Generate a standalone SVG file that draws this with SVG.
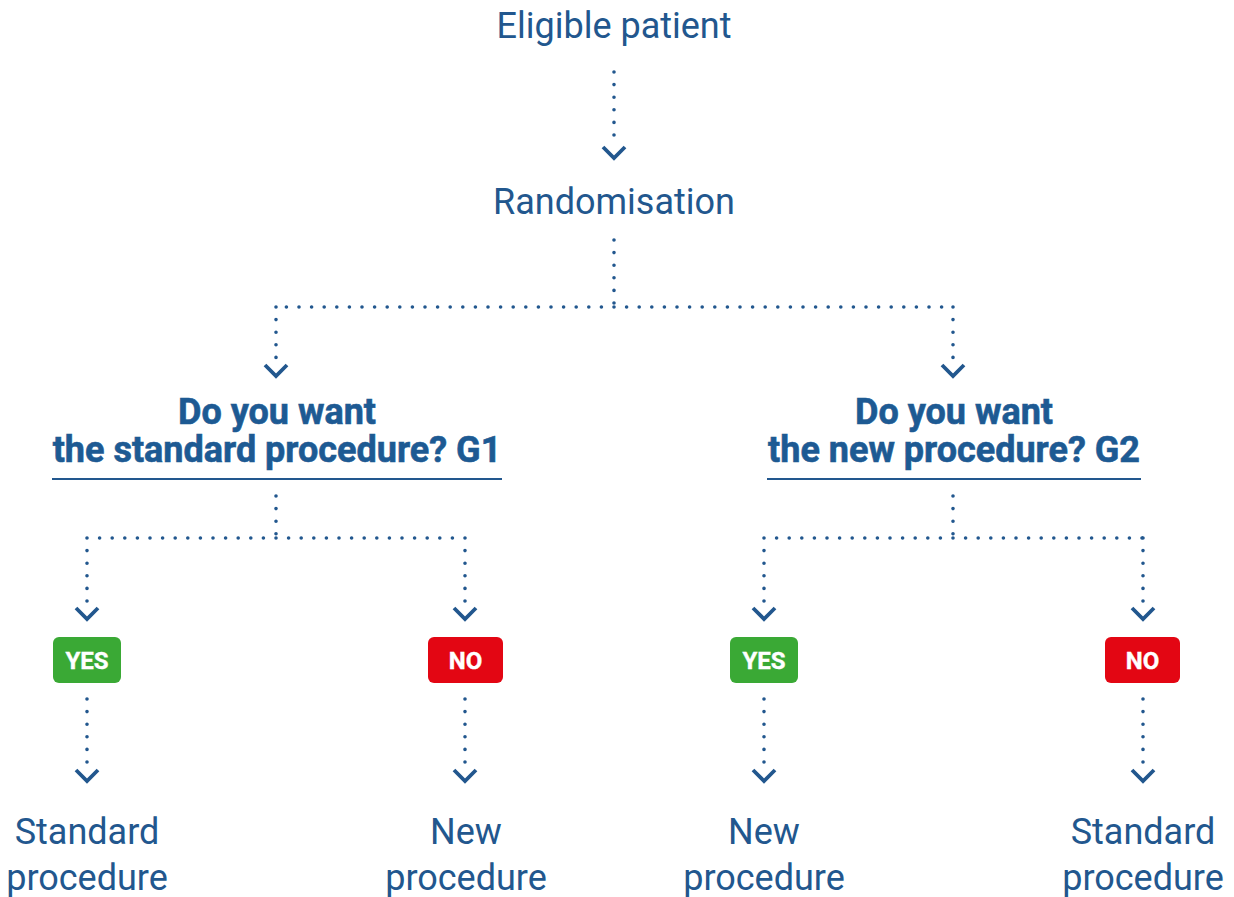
<svg xmlns="http://www.w3.org/2000/svg" width="1234" height="897" viewBox="0 0 1234 897">
  <style>
    .label { font-family: Roboto, "Liberation Sans", sans-serif; font-size: 36px; fill: #22578e; text-anchor: middle; }
    .question { font-family: Roboto, "Liberation Sans", sans-serif; font-size: 36px; font-weight: 700; fill: #1d5a93; text-anchor: middle; stroke: #1d5a93; stroke-width: 0.6; }
    .badge-text { font-family: Roboto, "Liberation Sans", sans-serif; font-size: 24px; font-weight: 700; fill: #ffffff; text-anchor: middle; stroke: #ffffff; stroke-width: 0.4; }
    .dots { fill: none; stroke: #22578e; stroke-width: 3.6; stroke-linecap: round; stroke-dasharray: 0 12.6; }
    .chevron { fill: none; stroke: #22578e; stroke-width: 3.8; stroke-linecap: butt; stroke-linejoin: miter; }
    .rule { stroke: #22578e; stroke-width: 2.2; }
  </style>
  <defs>
    <path id="chev" class="chevron" d="M-11,-11 L0,0 L11,-11"/>
  </defs>
  <rect width="1234" height="897" fill="#ffffff"/>

  <g id="connectors">
    <path class="dots" d="M614,72 V147"/>
    <use href="#chev" x="614" y="158"/>

    <path class="dots" d="M614,240 V307 M614,307 H276 M614,307 H953 M276,307 V366 M953,307 V366"/>
    <use href="#chev" x="276" y="376"/>
    <use href="#chev" x="953" y="376"/>

    <path class="dots" d="M276,496 V538 M276,538 H87 M276,538 H465 M87,538 V608 M465,538 V608"/>
    <use href="#chev" x="87" y="619"/>
    <use href="#chev" x="465" y="619"/>

    <path class="dots" d="M953,496 V538 M953,538 H764 M953,538 H1143 M764,538 V608 M1143,538 V608"/>
    <use href="#chev" x="764" y="619"/>
    <use href="#chev" x="1143" y="619"/>

    <path class="dots" d="M87,699 V769 M465,699 V769 M764,699 V769 M1143,699 V769"/>
    <use href="#chev" x="87" y="781"/>
    <use href="#chev" x="465" y="781"/>
    <use href="#chev" x="764" y="781"/>
    <use href="#chev" x="1143" y="781"/>
  </g>

  <g id="eligible">
    <text class="label" x="614" y="38">Eligible patient</text>
  </g>
  <g id="randomisation">
    <text class="label" x="614" y="214">Randomisation</text>
  </g>

  <g id="question-g1">
    <text class="question" x="277" y="424">Do you want</text>
    <text class="question" x="277" y="462">the standard procedure? G1</text>
    <line class="rule" x1="52" y1="479" x2="502" y2="479"/>
  </g>
  <g id="question-g2">
    <text class="question" x="954" y="424">Do you want</text>
    <text class="question" x="954" y="462">the new procedure? G2</text>
    <line class="rule" x1="767" y1="479" x2="1141" y2="479"/>
  </g>

  <g id="yes-g1">
    <rect x="53" y="637" width="68" height="46" rx="6" fill="#3aa935"/>
    <text class="badge-text" x="87" y="669">YES</text>
  </g>
  <g id="no-g1">
    <rect x="428" y="637" width="75" height="46" rx="6" fill="#e30613"/>
    <text class="badge-text" x="465.5" y="669">NO</text>
  </g>
  <g id="yes-g2">
    <rect x="730" y="637" width="68" height="46" rx="6" fill="#3aa935"/>
    <text class="badge-text" x="764" y="669">YES</text>
  </g>
  <g id="no-g2">
    <rect x="1105" y="637" width="75" height="46" rx="6" fill="#e30613"/>
    <text class="badge-text" x="1142.5" y="669">NO</text>
  </g>

  <g id="outcome-standard-g1">
    <text class="label" x="87" y="844">Standard</text>
    <text class="label" x="87" y="890">procedure</text>
  </g>
  <g id="outcome-new-g1">
    <text class="label" x="466" y="844">New</text>
    <text class="label" x="466" y="890">procedure</text>
  </g>
  <g id="outcome-new-g2">
    <text class="label" x="764" y="844">New</text>
    <text class="label" x="764" y="890">procedure</text>
  </g>
  <g id="outcome-standard-g2">
    <text class="label" x="1143" y="844">Standard</text>
    <text class="label" x="1143" y="890">procedure</text>
  </g>
</svg>
